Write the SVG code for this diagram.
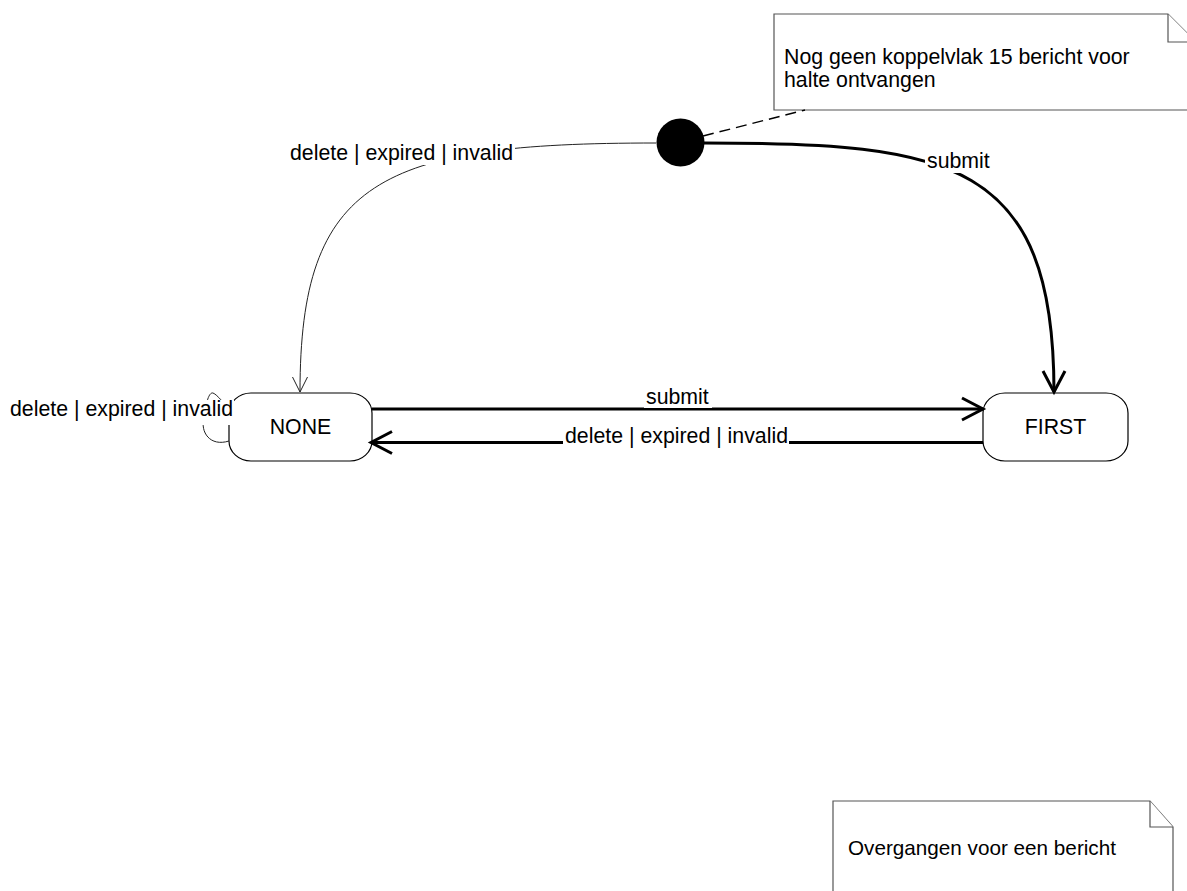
<svg xmlns="http://www.w3.org/2000/svg" width="1187" height="891" viewBox="0 0 1187 891">
<style>
text{font-family:"Liberation Sans",Arial,sans-serif;font-size:21.3px;fill:#000}
.state{fill:#fff;stroke:#000;stroke-width:1.2}
.note{fill:#fff;stroke:#555;stroke-width:1.2}
.thin{fill:none;stroke:#222;stroke-width:1}
.thick{fill:none;stroke:#000;stroke-width:3}
.dash{fill:none;stroke:#000;stroke-width:1.4;stroke-dasharray:11 6}
.bg{fill:#fff;stroke:none}
</style>
<defs>
<marker id="vThick" markerUnits="userSpaceOnUse" markerWidth="30" markerHeight="30" refX="21" refY="11" orient="auto" overflow="visible">
<path d="M0,0 L21,11 L0,22" fill="none" stroke="#000" stroke-width="3"/>
</marker>
<marker id="vThin" markerUnits="userSpaceOnUse" markerWidth="20" markerHeight="20" refX="15" refY="7.5" orient="auto" overflow="visible">
<path d="M0,0 L15,7.5 L0,15" fill="none" stroke="#222" stroke-width="1"/>
</marker>
</defs>
<rect width="1187" height="891" fill="#fff"/>
<g id="note1">
<path class="note" d="M774,14 L1168,14 L1196,42 L1196,110 L774,110 Z"/>
<path class="note" d="M1168,14 L1168,42 L1196,42"/>
<text x="784" y="64">Nog geen koppelvlak 15 bericht voor</text>
<text x="784" y="87">halte ontvangen</text>
</g>
<g id="note2">
<path class="note" d="M833,801 L1150,801 L1173,827 L1173,900 L833,900 Z"/>
<path class="note" d="M1150,801 L1150,827 L1173,827"/>
<text x="848" y="855" style="font-size:20.7px">Overgangen voor een bericht</text>
</g>
<g id="initial">
<circle cx="680.5" cy="142.5" r="24" fill="#000"/>
</g>
<g id="NONE">
<rect class="state" x="229" y="393" width="143" height="68" rx="22" ry="20"/>
<text x="300.5" y="434" text-anchor="middle">NONE</text>
</g>
<g id="FIRST">
<rect class="state" x="983" y="393" width="145" height="68" rx="22" ry="20"/>
<text x="1055.5" y="434" text-anchor="middle">FIRST</text>
</g>
<g id="connectors">
<path class="dash" d="M703,136 L805,110"/>
<path class="thin" d="M656,143 C380,143 300,180 300,392" marker-end="url(#vThin)"/>
<rect class="bg" x="288" y="141" width="227" height="24"/>
<text x="290" y="160">delete | expired | invalid</text>
<path class="thick" d="M704,143 C950,143 1054,160 1054,392" marker-end="url(#vThick)"/>
<rect class="bg" x="925" y="150" width="67" height="23"/>
<text x="927" y="168">submit</text>
<path class="thick" d="M372,409 L983,409" marker-end="url(#vThick)"/>
<rect class="bg" x="644" y="386" width="68" height="22"/>
<text x="646" y="404">submit</text>
<path class="thick" d="M983,442.5 L371,442.5" marker-end="url(#vThick)"/>
<rect class="bg" x="563" y="426" width="226" height="24"/>
<text x="565" y="443">delete | expired | invalid</text>
<path class="thin" d="M229,441 C210,447 200,432 204,418 C206,402 209,392 213,393 C218,395 223,404 231,408"/>
<rect class="bg" x="8" y="400" width="226" height="25"/>
<text x="10" y="416">delete | expired | invalid</text>
</g>
</svg>
